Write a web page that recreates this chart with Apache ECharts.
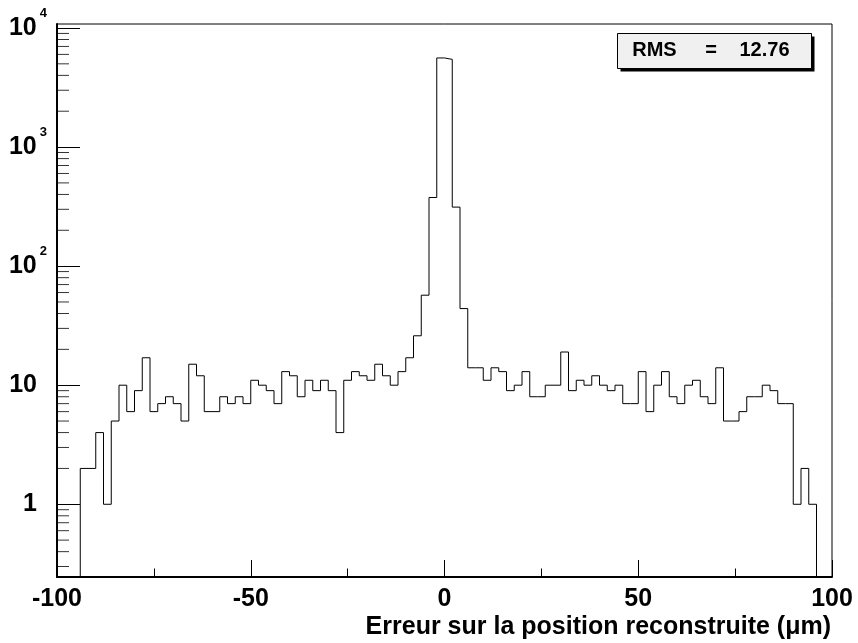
<!DOCTYPE html>
<html>
<head>
<meta charset="utf-8">
<script src="https://cdn.jsdelivr.net/npm/echarts@6/dist/echarts.min.js"></script>
<style>
  html, body { margin: 0; padding: 0; background: #ffffff; }
  #chart { width: 858px; height: 643px; }
</style>
</head>
<body>
<div id="chart"></div>
<script>
// ---- data ----
const binStart = -100;
const binWidth = 2;
// counts per bin, bins from -100 to +100, width 2
const counts = [
  0, 0, 0, 2, 2, 4, 1, 5, 10, 6,          // -100 .. -82
  9, 17, 6, 7, 8, 7, 5, 15, 12, 6,        // -80 .. -62
  6, 8, 7, 8, 7, 11, 10, 9, 7, 13,        // -60 .. -42
  12, 8, 11, 9, 11, 9, 4, 11, 13, 12,     // -40 .. -22
  11, 15, 12, 10, 13, 17, 26, 57, 377, 5600, // -20 .. -2
  5450, 313, 44, 14, 14, 11, 14, 13, 9, 10,  // 0 .. 18
  13, 8, 8, 10, 10, 19, 9, 11, 10, 12,    // 20 .. 38
  10, 9, 10, 7, 7, 13, 6, 10, 13, 8,      // 40 .. 58
  7, 10, 11, 8, 7, 14, 5, 5, 6, 8,        // 60 .. 78
  8, 10, 9, 7, 7, 1, 2, 1, 0, 0           // 80 .. 98
];
const xTickLabels = ['-100', '-50', '0', '50', '100'];
const yMinorTicks = [0.3, 0.4, 0.5, 0.6, 0.7, 0.8, 0.9,
  2, 3, 4, 5, 6, 7, 8, 9,
  20, 30, 40, 50, 60, 70, 80, 90,
  200, 300, 400, 500, 600, 700, 800, 900,
  2000, 3000, 4000, 5000, 6000, 7000, 8000, 9000];
const xTitle = 'Erreur sur la position reconstruite (\u03bcm)';
const statLabel = 'RMS';
const statValue = '12.76';

const yMin = 0.245, yMax = 10800;
const xMin = -100, xMax = 100;

// ---- build histogram outline (step) ----
const histData = counts.map((c, i) => [binStart + i * binWidth, c > 0 ? c : yMin]);
histData.push([binStart + counts.length * binWidth, counts[counts.length - 1] > 0 ? counts[counts.length - 1] : yMin]);

const FONT = "'Liberation Sans', Arial, Helvetica, sans-serif";

const chart = echarts.init(document.getElementById('chart'), null, { renderer: 'canvas' });

chart.setOption({
  backgroundColor: '#ffffff',
  animation: false,
  grid: {
    left: 57, right: 26, top: 24, bottom: 66,
    show: true, borderColor: '#000', borderWidth: 1,
    backgroundColor: 'transparent',
    containLabel: false,
    outerBoundsMode: 'none'
  },
  xAxis: {
    type: 'value',
    min: xMin, max: xMax, interval: 50,
    axisLine: { show: true, onZero: false, lineStyle: { color: '#000', width: 2 } },
    axisTick: { show: true, inside: true, length: 17, lineStyle: { color: '#000', width: 1 } },
    minorTick: { show: true, splitNumber: 2, length: 8.5, lineStyle: { color: '#000', width: 1 } },
    splitLine: { show: false },
    axisLabel: {
      show: true, margin: 10, color: '#000',
      fontFamily: FONT, fontWeight: 'bold', fontSize: 25,
      formatter: function (v) {
        const idx = Math.round((v - xMin) / 50);
        return xTickLabels[idx] !== undefined ? xTickLabels[idx] : '';
      }
    },
    name: xTitle,
    nameLocation: 'end',
    nameGap: -1,
    nameTextStyle: {
      color: '#000', fontFamily: FONT, fontWeight: 'bold', fontSize: 25,
      align: 'right', verticalAlign: 'top', padding: [38, 0, 0, 0]
    }
  },
  yAxis: {
    type: 'log',
    logBase: 10,
    min: yMin, max: yMax,
    axisLine: { show: true, onZero: false, lineStyle: { color: '#000', width: 2 } },
    axisTick: { show: true, inside: true, length: 23, lineStyle: { color: '#000', width: 1 } },
    minorTick: { show: false },
    splitLine: { show: false },
    axisLabel: {
      show: true, margin: 10, color: '#000',
      showMinLabel: false, showMaxLabel: false,
      formatter: function (v) {
        const l = Math.log10(v);
        const e = Math.round(l);
        if (Math.abs(l - e) > 1e-6) return '';
        if (e === 0) return '{b|1}{sp|\u00a0}';
        if (e === 1) return '{b|10}{sp|\u00a0}';
        return '{b|10}{s|' + e + '}';
      },
      rich: {
        b: { fontFamily: FONT, fontWeight: 'bold', fontSize: 25, lineHeight: 25, color: '#000', verticalAlign: 'bottom' },
        s: { fontFamily: FONT, fontWeight: 'bold', fontSize: 13, lineHeight: 13, color: '#000', verticalAlign: 'bottom', padding: [0, 0, 21, 3] },
        sp: { fontFamily: FONT, fontWeight: 'bold', fontSize: 13, lineHeight: 13, color: '#000', verticalAlign: 'bottom', padding: [0, 0, 21, 3], width: 7 }
      }
    }
  },
  series: [
    {
      type: 'line',
      data: histData,
      step: 'end',
      showSymbol: false,
      symbol: 'none',
      clip: true,
      lineStyle: { color: '#000', width: 1 },
      silent: true,
      z: 3
    },
    {
      type: 'scatter',
      data: yMinorTicks.map(v => [xMin, v]),
      symbol: 'rect',
      symbolSize: [12, 1],
      symbolOffset: [6, 0],
      itemStyle: { color: '#000' },
      silent: true,
      z: 4
    }
  ],
  graphic: [
    {
      type: 'group',
      left: 617, top: 33,
      children: [
        { type: 'rect', shape: { x: 3, y: 3, width: 194, height: 35 }, style: { fill: '#000' } },
        { type: 'rect', shape: { x: 0, y: 0, width: 194, height: 35 }, style: { fill: '#f0f0f0', stroke: '#000', lineWidth: 1 } },
        { type: 'text', x: 14.7, y: 17, style: { text: statLabel, fontFamily: FONT, fontWeight: 'bold', fontSize: 20, fill: '#000', align: 'left', verticalAlign: 'middle' } },
        { type: 'text', x: 93.5, y: 17, style: { text: '=', fontFamily: FONT, fontWeight: 'bold', fontSize: 20, fill: '#000', align: 'center', verticalAlign: 'middle' } },
        { type: 'text', x: 172, y: 17, style: { text: statValue, fontFamily: FONT, fontWeight: 'bold', fontSize: 20, fill: '#000', align: 'right', verticalAlign: 'middle' } }
      ]
    }
  ]
});
</script>
</body>
</html>
